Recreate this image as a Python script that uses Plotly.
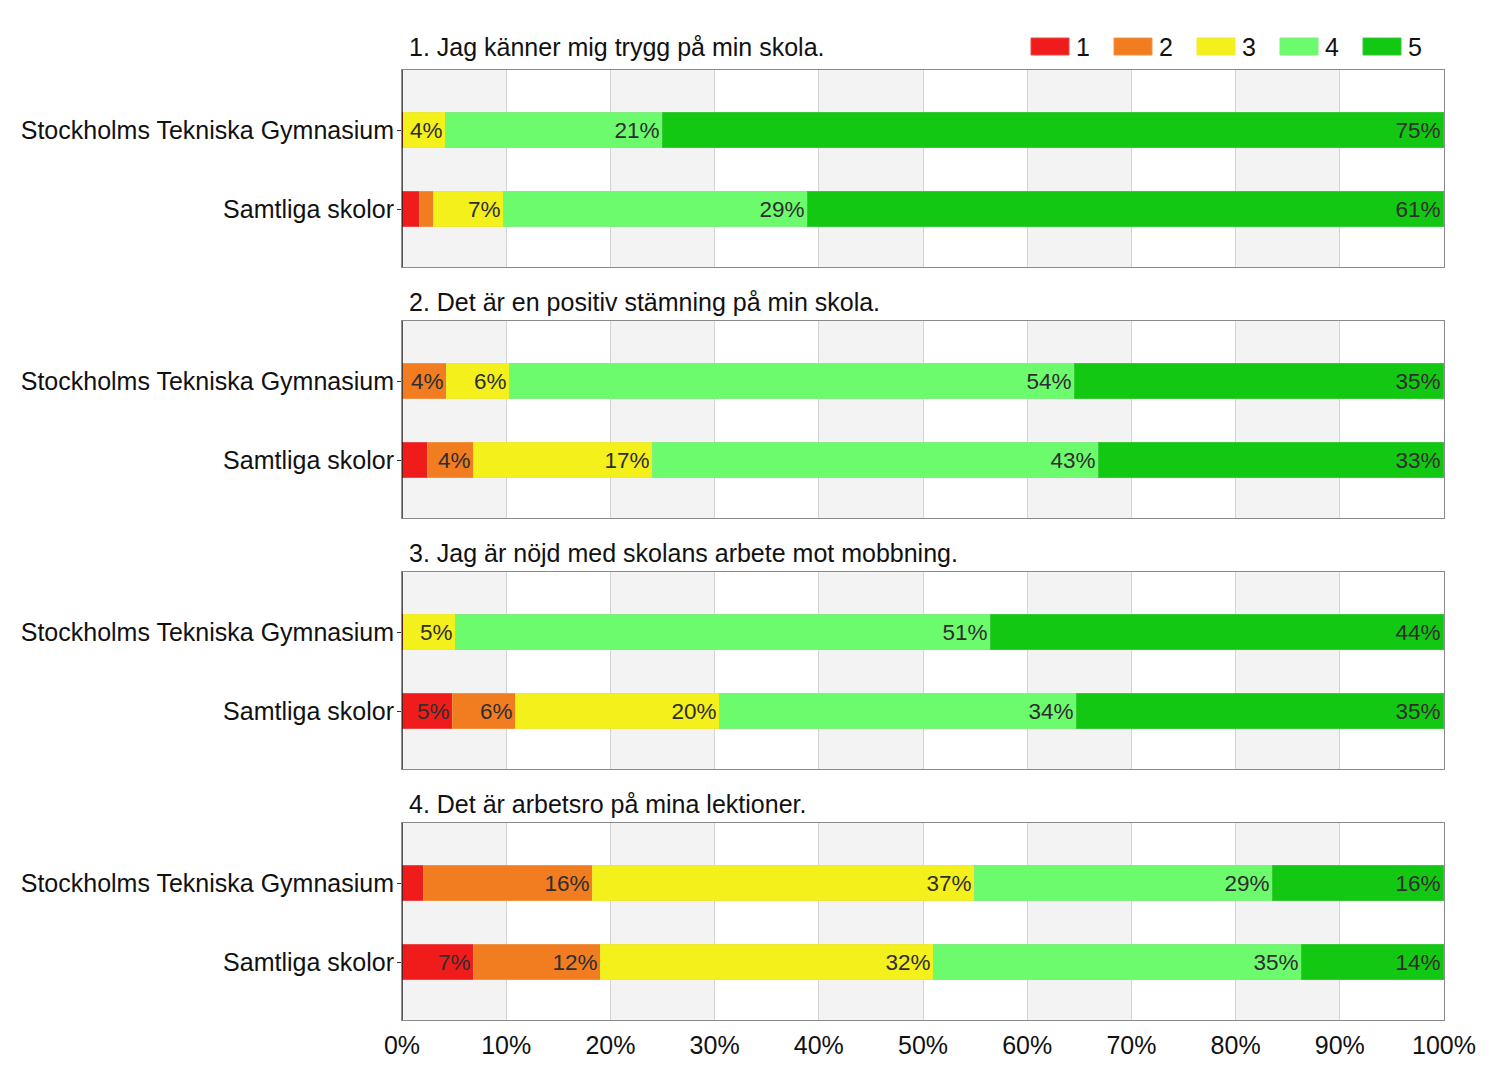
import plotly.graph_objects as go

categories = ["Samtliga skolor", "Stockholms Tekniska Gymnasium"]
questions = [
    "1. Jag känner mig trygg på min skola.",
    "2. Det är en positiv stämning på min skola.",
    "3. Jag är nöjd med skolans arbete mot mobbning.",
    "4. Det är arbetsro på mina lektioner.",
]
levels = ["1", "2", "3", "4", "5"]
# values per question: [Samtliga, STG] for each level (percent)
q1 = {"1": [1.7, 0.2], "2": [1.4, 0.0], "3": [6.7, 4.0], "4": [29.2, 20.8], "5": [61.0, 75.0]}
q2 = {"1": [2.5, 0.1], "2": [4.4, 4.2], "3": [17.2, 6.1], "4": [42.8, 54.2], "5": [33.1, 35.4]}
q3 = {"1": [4.9, 0.2], "2": [6.0, 0.0], "3": [19.6, 5.0], "4": [34.3, 51.3], "5": [35.2, 43.5]}
q4 = {"1": [6.9, 2.1], "2": [12.2, 16.2], "3": [32.0, 36.7], "4": [35.3, 28.6], "5": [13.6, 16.4]}
data = [q1, q2, q3, q4]
colors = {"1": "#f01c1c", "2": "#f27c20", "3": "#f4f01c", "4": "#6cfb6c", "5": "#12c812"}
edges = {"1": "#e84848", "2": "#f09444", "3": "#eeea34", "4": "#80ee80", "5": "#38c838"}

FONT = "Arial, Liberation Sans, sans-serif"
OX, OY = 8, 8  # page body offset
W, H = 1500 - 2 * OX, 1075 - 2 * OY


def px(x):
    return (x - OX) / W


def py(y):
    return 1 - (y - OY) / H


panels_px = [(70, 267), (321, 518), (572, 769), (823, 1020)]
title_px = [47, 302, 553, 804]

fig = go.Figure()
shapes = []
annotations = []
for i, q in enumerate(data):
    n = "" if i == 0 else str(i + 1)
    for lv in levels:
        vals = q[lv]
        txt = [f"{round(v)}%" if v >= 3 else "" for v in vals]
        fig.add_trace(go.Bar(
            y=categories, x=vals, orientation="h", name=lv,
            marker=dict(color=colors[lv], line=dict(color=edges[lv], width=1)),
            text=txt, textposition="inside", insidetextanchor="end",
            textfont=dict(family=FONT, size=22.5, color="#2e2e2e"),
            textangle=0, cliponaxis=False,
            width=0.44, showlegend=False,
            xaxis="x" + n, yaxis="y" + n, hoverinfo="skip",
        ))
    top, bot = panels_px[i]
    fig.layout["xaxis" + n] = dict(
        domain=[px(402), px(1444)], range=[0, 100], anchor="y" + n,
        showgrid=True, gridcolor="#d4d4d4", gridwidth=1, dtick=10,
        showline=True, linecolor="#8a8a8a", mirror=True,
        showticklabels=(i == 3), ticksuffix="%",
        tickfont=dict(family=FONT, size=25, color="#111"),
        ticklabelstandoff=3,
        ticks="", zeroline=False, fixedrange=True, automargin=False,
    )
    fig.layout["yaxis" + n] = dict(
        domain=[py(bot), py(top)], anchor="x" + n, type="category",
        categoryorder="array", categoryarray=categories,
        range=[-0.73, 1.76],
        showline=True, linecolor="#8a8a8a", mirror=True,
        ticks="outside", ticklen=4, tickcolor="#333",
        tickfont=dict(family=FONT, size=25, color="#111"),
        ticklabelstandoff=-2,
        showgrid=False, zeroline=False, fixedrange=True, automargin=False,
    )
    xr = "x" + n
    yr = ("y" + n) + " domain"
    for k in range(0, 10, 2):
        shapes.append(dict(type="rect", xref=xr, yref=yr, x0=k * 10, x1=k * 10 + 10,
                           y0=0, y1=1, fillcolor="#f3f3f3", line_width=0, layer="below"))
    shapes.append(dict(type="line", xref=xr, yref=yr, x0=0, x1=0, y0=0, y1=1,
                       line=dict(color="#222", width=1.5)))
    annotations.append(dict(text=questions[i], xref="paper", yref="paper",
                            x=px(407), y=py(title_px[i]), xanchor="left", yanchor="middle",
                            showarrow=False, font=dict(family=FONT, size=25, color="#111")))

# custom legend
leg_x = [1031, 1114, 1197, 1280, 1363]
for lv, lx in zip(levels, leg_x):
    shapes.append(dict(type="rect", xref="paper", yref="paper",
                       x0=px(lx), x1=px(lx + 38), y0=py(55), y1=py(38),
                       fillcolor=colors[lv], line=dict(color=edges[lv], width=1)))
    annotations.append(dict(text=lv, xref="paper", yref="paper", x=px(lx + 43),
                            y=py(47), xanchor="left", yanchor="middle", showarrow=False,
                            font=dict(family=FONT, size=25, color="#111")))

fig.update_layout(
    width=W, height=H, barmode="stack", bargap=0,
    margin=dict(l=0, r=0, t=0, b=0, autoexpand=False),
    paper_bgcolor="white", plot_bgcolor="white",
    shapes=shapes, annotations=annotations,
    font=dict(family=FONT),
)
fig.write_html("out.html")
